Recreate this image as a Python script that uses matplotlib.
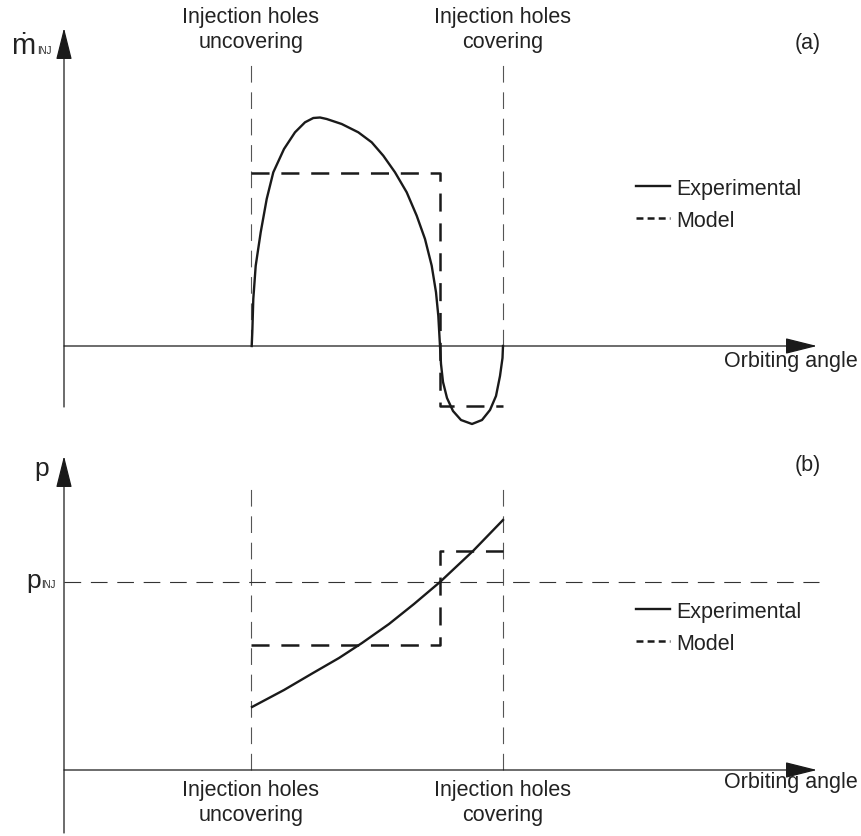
import matplotlib
matplotlib.use('Agg')
import matplotlib.pyplot as plt
from matplotlib.lines import Line2D

plt.rcParams.update({
    'font.family': ['Liberation Sans', 'DejaVu Sans'],
    'font.size': 15.5,
    'lines.scale_dashes': False,
})

# ---------------------------------------------------------------------------
# data (orbiting angle / signal in arbitrary schematic units)
# ---------------------------------------------------------------------------
X_UNCOVER = 1.87
X_COVER = 4.39

# (a) injection mass flow rate
mdot_exp_x = [1.877, 1.883, 1.893, 1.917, 1.967, 2.027, 2.093, 2.20, 2.31, 2.41, 2.493,
              2.56, 2.627, 2.777, 2.943, 3.077, 3.193, 3.31, 3.427, 3.527, 3.61, 3.677,
              3.72, 3.743, 3.76,
              3.77, 3.79, 3.83, 3.89, 3.97, 4.08, 4.18, 4.26, 4.32, 4.36, 4.385, 4.39]
mdot_exp_y = [0.0, 0.137, 0.47, 0.803, 1.137, 1.47, 1.737, 1.97, 2.137, 2.237, 2.28,
              2.285, 2.27, 2.22, 2.137, 2.037, 1.903, 1.737, 1.537, 1.303, 1.07, 0.803,
              0.537, 0.303, 0.0,
              -0.18, -0.36, -0.52, -0.65, -0.74, -0.78, -0.74, -0.64, -0.50, -0.30, -0.12, 0.0]
mdot_mod_x = [1.87, 3.76, 3.76, 4.39]
mdot_mod_y = [1.73, 1.73, -0.60, -0.60]

# (b) pressure
p_exp_x = [1.88, 2.20, 2.49, 2.75, 2.98, 3.25, 3.50, 3.76, 4.09, 4.39]
p_exp_y = [0.63, 0.80, 0.97, 1.12, 1.27, 1.46, 1.66, 1.88, 2.19, 2.50]
p_mod_x = [1.87, 3.76, 3.76, 4.39]
p_mod_y = [1.25, 1.25, 2.19, 2.19]
P_INJ = 1.88

W, H = 861, 837
fig = plt.figure(figsize=(W / 100, H / 100), dpi=100)

# both panels: 1 data unit = 100 px, origin at the axes crossing
ax_a = fig.add_axes([0, 1 - 430 / H, 1, 430 / H])
ax_a.set_xlim(-0.64, (W - 64) / 100)
ax_a.set_ylim(-0.83, 3.47)
ax_b = fig.add_axes([0, 0, 1, 407 / H])
ax_b.set_xlim(-0.64, (W - 64) / 100)
ax_b.set_ylim(-0.66, 3.41)

INK = '#1a1a1a'
TXT = '#222222'
GUIDE = dict(color='#555555', lw=0.8, dashes=(12, 7))
CURVE = dict(color=INK, lw=1.7, solid_joinstyle='round')
MODEL = dict(color=INK, lw=1.8, dashes=(13, 8.5))
ARROW = dict(arrowstyle='-|>,head_length=1.0,head_width=0.25', color=INK,
             lw=0.9, shrinkA=0, shrinkB=0, mutation_scale=20)


def axes_arrows(ax, ybot, ytop, xtip):
    ax.annotate('', xy=(0, ytop), xytext=(0, ybot), arrowprops=ARROW)
    ax.annotate('', xy=(xtip, 0), xytext=(0, 0), arrowprops=ARROW)


def legend(ax, ytop):
    handles = [Line2D([], [], color=INK, lw=1.7),
               Line2D([], [], color=INK, lw=1.8, dashes=(5, 3))]
    ax.legend(handles, ['Experimental', 'Model'], loc='upper left',
              bbox_to_anchor=(5.72, ytop), bbox_transform=ax.transData,
              frameon=False, handlelength=1.58, handletextpad=0.28,
              labelspacing=0.49, borderpad=0, borderaxespad=0, labelcolor=TXT)


for ax in (ax_a, ax_b):
    ax.axis('off')

lbl = dict(ha='center', va='center', linespacing=1.25, color=TXT)

# ---- panel (a) ----
axes_arrows(ax_a, -0.61, 3.18, 7.53)
ax_a.plot([X_UNCOVER, X_UNCOVER], [0, 2.89], **GUIDE)
ax_a.plot([X_COVER, X_COVER], [0, 2.89], **GUIDE)
ax_a.plot(mdot_exp_x, mdot_exp_y, **CURVE)
ax_a.plot(mdot_mod_x, mdot_mod_y, **MODEL)

ax_a.text(X_UNCOVER, 3.17, 'Injection holes\nuncovering', **lbl)
ax_a.text(X_COVER, 3.17, 'Injection holes\ncovering', **lbl)
ax_a.text(7.44, 3.04, '(a)', ha='center', va='center', color=TXT)
ax_a.text(7.94, -0.15, 'Orbiting angle', ha='right', va='center', color=TXT)
ax_a.text(-0.53, 2.93, '\u1e41', ha='left', va='baseline', fontsize=21, color=TXT)
ax_a.text(-0.265, 2.93, 'INJ', ha='left', va='baseline', fontsize=7, color=TXT)
legend(ax_a, 1.68)

# ---- panel (b) ----
axes_arrows(ax_b, -0.63, 3.14, 7.53)
ax_b.plot([X_UNCOVER, X_UNCOVER], [0, 2.88], **GUIDE)
ax_b.plot([X_COVER, X_COVER], [0, 2.88], **GUIDE)
ax_b.plot([0, 7.55], [P_INJ, P_INJ], color='#333333', lw=0.8, dashes=(12, 7))
ax_b.plot(p_exp_x, p_exp_y, **CURVE)
ax_b.plot(p_mod_x, p_mod_y, **MODEL)

ax_b.text(X_UNCOVER, -0.32, 'Injection holes\nuncovering', **lbl)
ax_b.text(X_COVER, -0.32, 'Injection holes\ncovering', **lbl)
ax_b.text(7.44, 3.05, '(b)', ha='center', va='center', color=TXT)
ax_b.text(7.94, -0.12, 'Orbiting angle', ha='right', va='center', color=TXT)
ax_b.text(-0.295, 2.95, 'p', ha='left', va='baseline', fontsize=19, color=TXT)
ax_b.text(-0.375, 1.83, 'p', ha='left', va='baseline', fontsize=19, color=TXT)
ax_b.text(-0.225, 1.83, 'INJ', ha='left', va='baseline', fontsize=7, color=TXT)
legend(ax_b, 1.69)

fig.savefig('out.png', dpi=100)
